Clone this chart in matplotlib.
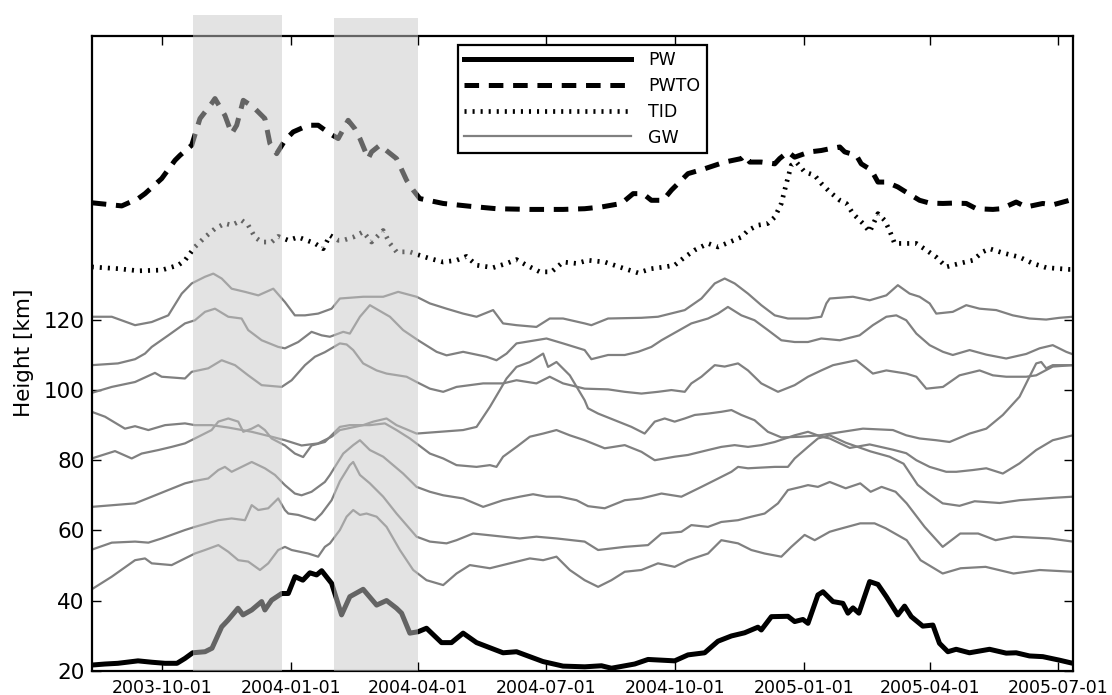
import matplotlib
matplotlib.use("Agg")
import matplotlib.pyplot as plt
import matplotlib.dates as mdates
import datetime as dt

plt.rcParams['font.family'] = ['DejaVu Sans']
plt.rcParams['lines.scale_dashes'] = False

START = dt.date(2003, 8, 12)
SPAN_DAYS = 700

# ---------------- data (day offsets from START, values in km) ----------------
pw_days = [0, 9.5, 18.7, 33, 43, 52.3, 60.8, 66.5, 72, 80.8, 85.8, 92.7, 97.2, 104.3, 107.9, 114.1, 121.2, 123.5,
           128.3, 135.5, 140.2, 145, 150.6, 155.6, 160.4, 164, 171.1, 178.2, 184.1, 193.6, 203.2, 210.3, 217.4, 221,
           226.9, 232.8, 238.8, 249.5, 256.6, 264.9, 274.5, 293.4, 303, 321.9, 336.2, 351.7, 363.6, 370.7, 387.3,
           396.8, 415.8, 425.3, 437.2, 446.7, 456.3, 465.7, 475.2, 477.6, 484.8, 496.6, 501.4, 507.3, 510.9, 518,
           521.6, 528.7, 535.8, 539.4, 543, 547.2, 554.9, 560.8, 566.8, 575, 579.8, 584.6, 592.8, 600, 604.7, 610.7,
           616.6, 626.1, 640.4, 652.3, 659.4, 668.9, 678.4, 690.2, 699.8]
pw_vals = [21.6, 21.9, 22.1, 22.8, 22.4, 22.1, 22.1, 23.5, 25.1, 25.4, 26.4, 32.5, 34.4, 37.8, 35.9, 37.3, 39.7, 37.3,
           40.1, 42.0, 42.0, 46.8, 45.8, 47.9, 47.3, 48.5, 44.9, 35.9, 41.1, 43.2, 38.7, 40.0, 37.8, 36.4, 30.7, 31.1,
           32.1, 28.0, 28.0, 30.7, 28.0, 25.1, 25.4, 22.6, 21.3, 21.1, 21.4, 20.7, 21.9, 23.2, 22.8, 24.5, 25.1, 28.4,
           29.9, 30.8, 32.4, 31.6, 35.4, 35.5, 34.0, 34.6, 33.5, 41.6, 42.5, 39.7, 39.2, 36.4, 37.9, 36.4, 45.4, 44.6,
           41.1, 35.9, 38.4, 35.4, 32.7, 33.0, 27.8, 25.4, 26.1, 25.1, 26.1, 25.0, 25.1, 24.2, 24.0, 23.0, 22.1]

pwto_days = [0, 21.4, 33.2, 38, 49.9, 59.4, 62.9, 71.3, 77.2, 85.5, 87.9, 95, 99.8, 103.4, 108.1, 115.2, 123.5, 127.1,
             131.9, 137.8, 143.7, 154.4, 161.5, 169.9, 175.8, 182.9, 187.7, 191.3, 197.2, 199.6, 205.5, 211.4, 217.4,
             224.6, 229.3, 234, 250.7, 269.7, 288.7, 312.5, 336.2, 351.6, 363.6, 377.8, 386.2, 393.2, 399.2, 407.5,
             413.5, 425.3, 437.2, 451.5, 463.4, 465.7, 469.3, 477.6, 487.2, 490.7, 496.6, 501.4, 512.1, 520.4, 526.4,
             533.6, 537.1, 545.4, 548.9, 556.1, 560.8, 566.8, 575, 578.6, 590.5, 597.7, 607.2, 614.2, 623.8, 631,
             642.8, 648.7, 659.4, 666.6, 678.4, 685.5, 697.4, 699.8]
pwto_vals = [153.4, 152.5, 154.6, 156.0, 160.3, 165.5, 166.9, 169.8, 177.4, 181.7, 183.1, 178.3, 173.1, 175.5, 182.6,
             180.7, 177.4, 170.3, 167.4, 171.2, 173.6, 175.5, 175.5, 173.1, 171.7, 176.9, 174.5, 171.7, 166.0, 167.9,
             169.8, 167.9, 166.0, 159.8, 157.0, 154.6, 153.2, 152.4, 151.7, 151.5, 151.5, 151.7, 152.2, 153.2, 156.0,
             156.0, 154.1, 154.1, 157.0, 161.7, 163.1, 165.0, 166.0, 166.9, 165.0, 165.0, 164.5, 166.0, 167.9, 166.4,
             167.9, 168.3, 168.8, 169.3, 167.9, 166.9, 164.5, 162.7, 159.3, 159.3, 157.9, 157.0, 154.1, 153.3, 153.2,
             153.3, 153.2, 151.7, 151.5, 151.7, 153.6, 152.2, 153.2, 152.8, 154.1, 154.6]

tid_days = [0, 19, 33.2, 49.9, 61.7, 66.5, 73.6, 80.8, 87.9, 95, 99.8, 106.9, 111.6, 116.4, 121.2, 128.3, 133, 140.2,
            147.3, 153.3, 159.2, 165.1, 169.9, 175.8, 179.4, 186.5, 193.6, 199.6, 207.9, 212.7, 217.4, 226.9, 234,
            241.2, 250.7, 260.2, 267.3, 274.5, 286.3, 295.9, 303, 310.1, 319.6, 327.9, 336.2, 345.8, 354, 365.9,
            380.2, 389.7, 399.2, 408.7, 415.8, 423, 430.1, 439.6, 446.7, 455, 463.4, 468.1, 475.2, 482.3, 487.2,
            491.9, 495.5, 499, 502.6, 508.5, 515.7, 520.4, 526.4, 533.6, 538.3, 543, 550.1, 554.9, 560.8, 565.6,
            569.1, 572.7, 581, 588.2, 595.3, 602.4, 609.5, 619, 628.5, 635.6, 640.4, 649.9, 661.8, 671.3, 680.8,
            697.4, 699.8]
tid_vals = [135.1, 134.6, 134.0, 134.2, 135.6, 137.0, 140.8, 143.6, 146.0, 147.5, 147.0, 148.4, 147.0, 143.6, 142.2,
            142.2, 143.8, 142.7, 143.6, 142.7, 141.8, 140.3, 144.1, 142.7, 142.7, 143.6, 145.1, 142.2, 145.5, 141.8,
            139.4, 139.4, 138.4, 137.5, 136.5, 137.0, 138.1, 135.6, 134.9, 136.1, 137.2, 135.6, 133.7, 133.7, 136.5,
            136.1, 137.0, 136.5, 134.6, 133.4, 134.6, 135.1, 135.6, 137.9, 139.9, 141.8, 140.8, 142.2, 143.6, 145.5,
            147.0, 147.5, 149.3, 153.2, 158.9, 164.1, 165.0, 162.2, 161.2, 158.9, 156.5, 154.1, 153.2, 150.3, 147.5,
            145.1, 150.3, 148.4, 145.5, 141.8, 141.8, 141.8, 139.9, 137.9, 135.1, 136.1, 137.0, 139.4, 140.3, 139.1,
            137.9, 136.1, 134.9, 134.4, 134.4]

gw1_days = [0, 14.3, 30.9, 42.8, 54.6, 64.2, 71.3, 80.8, 86.7, 92.7, 99.8, 109.3, 118.8, 129.5, 137.8, 144.9, 152.1,
            161.5, 171.1, 177, 193.6, 207.9, 218.6, 231.7, 241.2, 253.1, 264.9, 274.5, 286.3, 293.4, 303, 317.2, 326.7,
            336.2, 351.6, 356.4, 368.3, 392.1, 403.9, 423, 434.9, 444.4, 451.5, 458.6, 468.1, 477.6, 487.2, 496.6,
            510.9, 520.4, 524, 526.4, 543, 554.9, 566.8, 575, 583.4, 590.5, 597.7, 602.4, 614.2, 623.8, 633.3, 645.2,
            657, 668.9, 680.8, 690.3, 699.8]
gw1_vals = [120.9, 120.9, 118.5, 119.4, 121.3, 127.5, 130.4, 132.3, 133.2, 131.8, 128.9, 128.0, 127.0, 128.9, 125.1,
            121.3, 121.3, 121.8, 123.2, 126.1, 126.6, 126.6, 128.0, 126.6, 124.7, 123.2, 121.8, 120.9, 122.8, 119.0,
            118.5, 118.0, 120.4, 120.4, 119.0, 118.5, 120.4, 120.6, 120.9, 122.8, 126.1, 130.4, 131.8, 130.4, 127.5,
            124.2, 121.3, 120.4, 120.4, 120.9, 124.7, 126.1, 126.6, 125.6, 127.0, 129.9, 127.5, 126.6, 124.7, 121.8,
            122.3, 124.2, 123.2, 122.8, 121.3, 120.4, 120.1, 120.6, 120.9]

gw2_days = [0, 18.7, 30.9, 38, 42.8, 54.6, 66.5, 73.6, 80.8, 87.9, 97.4, 106.9, 111.6, 121.2, 133, 137.8, 147.3, 156.8,
            164, 169.9, 179.4, 184.1, 191.3, 198.4, 212.7, 222.1, 232.8, 246, 253.1, 264.9, 281.6, 288.7, 295.9, 303,
            324.4, 336.2, 351.6, 356.4, 368.3, 380.2, 389.7, 399.2, 406.4, 427.7, 439.6, 446.7, 453.8, 463.4, 472.8,
            482.3, 491.9, 501.4, 510.9, 520.4, 533.6, 547.7, 557.2, 566.8, 573.9, 581, 588.2, 597.7, 607.2, 614.2,
            626.2, 638.1, 652.3, 666.6, 676.1, 685.5, 695.1, 699.8]
gw2_vals = [107.1, 107.6, 108.8, 110.4, 112.3, 115.6, 119.0, 119.9, 122.3, 123.2, 120.9, 120.4, 117.1, 114.2, 112.3,
            111.9, 113.7, 116.6, 115.6, 115.2, 116.6, 116.1, 120.9, 124.2, 120.9, 117.1, 114.2, 110.9, 109.9, 110.9,
            109.5, 108.5, 110.4, 113.3, 114.7, 113.3, 111.4, 108.8, 110.0, 110.0, 110.9, 112.3, 114.2, 119.0, 120.4,
            121.8, 123.7, 121.3, 119.9, 117.1, 114.2, 113.7, 113.7, 114.7, 114.2, 115.6, 118.5, 120.9, 121.3, 119.9,
            116.1, 112.8, 110.9, 110.0, 111.4, 110.1, 109.0, 110.3, 111.9, 112.8, 110.9, 110.2]

gw3_days = [0, 14.3, 30.9, 45.1, 49.9, 66.5, 71.3, 83.1, 92.7, 102.2, 111.6, 121.2, 135.5, 142.6, 152.1, 159.2, 166.3,
            177, 181.8, 186.5, 193.6, 203.2, 210.3, 224.6, 231.7, 241.2, 250.7, 260.2, 269.7, 279.2, 293.4, 303, 317.2,
            326.7, 336.2, 351.6, 368.3, 380.2, 392.1, 403.9, 413.5, 423, 427.7, 434.9, 444.4, 451.5, 461, 468.1,
            477.6, 489.5, 501.4, 510.9, 520.4, 528.8, 545.4, 557.2, 566.8, 581, 588.2, 595.3, 607.2, 619, 633.3,
            642.8, 652.3, 666.6, 673.7, 685.5, 699.8]
gw3_vals = [99.2, 100.9, 102.3, 104.9, 103.8, 103.3, 105.2, 106.2, 108.5, 107.1, 104.2, 101.4, 100.9, 102.8, 107.1,
            109.5, 110.8, 113.3, 113.0, 111.4, 107.6, 105.6, 104.7, 103.8, 102.3, 100.4, 99.5, 100.9, 101.4, 101.9,
            101.9, 102.8, 101.9, 103.8, 101.9, 100.4, 100.2, 99.5, 99.0, 99.5, 100.0, 99.5, 101.9, 103.8, 107.1, 106.7,
            107.6, 105.6, 101.9, 99.5, 101.4, 103.8, 105.6, 107.1, 108.5, 104.7, 105.6, 104.7, 103.8, 100.4, 100.9,
            104.2, 105.6, 104.2, 103.8, 103.8, 104.2, 106.7, 107.1]

gw4_days = [0, 9.5, 23.7, 30.9, 40.4, 52.3, 66.5, 73.6, 85.5, 97.6, 114.1, 128.3, 137.8, 149.7, 161.5, 171.1, 177,
            181.8, 193.6, 200.8, 210.3, 217.4, 231.7, 248.3, 264.9, 274.5, 284, 291.1, 295.9, 303, 312.5, 322, 325.5,
            331.5, 341, 351.6, 354, 361.2, 373.1, 385, 394.4, 401.6, 408.7, 415.8, 423, 430.1, 439.6, 449.1, 456.3,
            463.4, 472.8, 482.3, 491.9, 506.1, 519.2, 550.1, 571.5, 581, 590.5, 602.4, 611.9, 626.2, 638.1, 649.9,
            661.8, 668.9, 673.7, 677.3, 680.8, 685.5, 699.8]
gw4_vals = [93.8, 92.4, 89.0, 89.7, 88.6, 90.0, 90.5, 90.0, 90.0, 89.3, 88.1, 86.7, 85.7, 84.2, 84.8, 86.7, 88.6, 89.0,
            90.0, 91.0, 91.9, 90.0, 87.6, 88.1, 88.6, 89.5, 95.2, 100.0, 103.3, 106.6, 108.0, 110.4, 106.6, 108.0,
            104.2, 97.1, 94.8, 93.3, 91.4, 89.5, 87.6, 91.0, 91.9, 91.0, 91.9, 92.9, 93.3, 93.8, 94.3, 92.9, 91.4, 88.1,
            86.5, 86.7, 87.1, 89.0, 88.6, 87.1, 86.2, 85.7, 85.2, 87.6, 89.0, 92.9, 98.1, 103.8, 107.6, 108.0, 106.2,
            107.1, 107.1]

gw5_days = [0, 16.6, 28.5, 35.6, 47.5, 57, 66.5, 73.6, 85.5, 90.3, 97.4, 104.5, 108.1, 114.1, 118.8, 123.5, 128.3,
            137.8, 144.9, 150.8, 156.8, 166.3, 177, 184.1, 198.4, 209.1, 217.4, 226.9, 241.2, 250.7, 260.2, 274.5, 284,
            288.7, 293.4, 303, 312.5, 322, 331.5, 341, 351.6, 365.9, 380.2, 392.1, 401.6, 415.8, 425.3, 439.6, 449.1,
            458.6, 468.1, 477.6, 487.2, 501.4, 510.9, 520.4, 526.4, 540.7, 554.9, 571.5, 581, 588.2, 597.7, 609.5,
            616.7, 628.5, 638.1, 649.9, 661.8, 673.7, 685.5, 699.8]
gw5_vals = [80.5, 82.6, 80.5, 81.9, 82.9, 83.8, 84.8, 86.2, 88.6, 91.0, 91.9, 91.0, 88.1, 89.0, 90.0, 88.6, 86.2, 84.2,
            81.9, 80.9, 84.2, 85.2, 89.5, 90.0, 90.0, 90.5, 88.6, 86.2, 81.9, 80.5, 78.6, 78.1, 78.6, 78.1, 81.0, 83.8,
            86.7, 87.6, 88.6, 87.1, 85.7, 83.4, 84.3, 82.4, 80.0, 81.0, 81.5, 82.9, 83.8, 84.3, 83.8, 84.3, 85.2, 87.1,
            88.1, 86.7, 86.2, 83.5, 84.5, 83.0, 82.0, 80.0, 78.1, 76.7, 76.7, 77.2, 77.7, 76.2, 79.1, 82.9, 85.7, 87.1]

gw6_days = [0, 30.9, 42.8, 54.6, 66.5, 73.6, 83.1, 90.3, 95, 99.8, 114.1, 123.5, 130.7, 137.8, 144.9, 149.7, 156.8,
            166.3, 169.9, 179.4, 186.5, 191.3, 198.4, 207.9, 222.1, 231.7, 241.2, 250.7, 264.9, 279.2, 293.4, 305.3,
            314.8, 324.4, 333.9, 345.8, 354, 365.9, 380.2, 392.1, 406.4, 420.6, 434.9, 444.4, 456.3, 461, 468.1, 487.2,
            496.6, 501.4, 510.9, 518, 526.4, 537.8, 555.6, 569.1, 579.1, 589.1, 596.9, 607, 619, 629.8, 647.6, 661.8,
            676.1, 686.8, 699.8]
gw6_vals = [66.7, 67.7, 69.6, 71.5, 73.4, 74.1, 74.8, 77.2, 78.1, 76.7, 79.5, 77.7, 75.8, 72.9, 70.5, 70.0, 71.0, 73.8,
            75.8, 81.9, 84.3, 85.7, 82.9, 81.0, 76.2, 72.4, 71.0, 70.0, 69.1, 66.7, 68.6, 69.6, 70.3, 69.6, 69.6, 68.6,
            66.9, 66.3, 68.6, 69.1, 70.5, 69.6, 72.4, 74.3, 76.7, 78.1, 77.7, 78.1, 78.1, 80.5, 83.8, 86.2, 87.1, 85.0,
            82.5, 81.0, 79.0, 73.0, 70.5, 67.7, 67.0, 68.3, 67.8, 68.6, 69.0, 69.3, 69.6]

gw7_days = [0, 14.3, 30.9, 40.4, 49.9, 66.5, 73.6, 90.3, 99.8, 109.3, 114.1, 118.8, 125.9, 133, 137.8, 140.2, 147.3,
            159.2, 164, 171.1, 177, 184.1, 186.5, 191.3, 198.4, 207.9, 217.4, 231.7, 241.2, 253.1, 260.2, 272, 281.6,
            293.4, 305.3, 317.2, 331.5, 351.6, 361.2, 380.2, 396.8, 406.4, 420.6, 427.7, 439.6, 449.1, 461, 470.5,
            480, 489.5, 496.6, 506.1, 510.9, 518, 526.4, 537.8, 548.2, 555.6, 563.4, 573.4, 581.3, 594.1, 607, 619.5,
            632.3, 644.7, 657.5, 683.2, 699.8]
gw7_vals = [54.5, 56.5, 56.8, 56.5, 57.7, 60.1, 61.0, 62.9, 63.4, 62.9, 67.2, 65.8, 66.3, 69.1, 65.8, 64.8, 64.4, 62.9,
            64.8, 68.6, 74.0, 78.6, 79.5, 75.8, 73.4, 69.6, 64.8, 58.2, 56.8, 56.3, 57.2, 59.1, 58.7, 58.2, 57.7, 58.2,
            57.7, 56.8, 54.4, 55.3, 55.8, 59.1, 59.6, 61.5, 61.0, 62.4, 62.9, 63.9, 64.8, 67.7, 71.5, 72.4, 72.9, 72.4,
            73.8, 72.0, 73.4, 71.0, 72.4, 71.0, 67.7, 61.0, 55.3, 59.1, 59.1, 57.2, 58.2, 57.7, 56.8]

gw8_days = [0, 14.3, 30.9, 38, 42.8, 57, 66.5, 73.6, 80.8, 90.3, 97.4, 104.5, 111.6, 120, 125.9, 133, 137.8, 142.6,
            154.4, 161.5, 166.3, 169.9, 177, 181.8, 186.5, 191.3, 196, 203.2, 210.3, 219.8, 229.3, 238.8, 250.7, 260.2,
            269.7, 284, 298.2, 312.5, 322, 331.5, 341, 351.6, 361.2, 370.7, 380.2, 392.1, 403.9, 415.8, 425.3, 439.6,
            449.1, 461, 470.5, 480, 491.9, 499, 508.5, 515.7, 526.4, 530.7, 548.2, 558.4, 566.3, 581.3, 591.2, 607,
            619.8, 637.6, 657.5, 676.1, 699.8]
gw8_vals = [43.2, 46.8, 51.5, 52.0, 50.6, 50.1, 52.0, 53.4, 54.4, 55.8, 53.9, 51.5, 51.1, 48.7, 50.6, 54.4, 55.3, 54.4,
            53.4, 52.5, 55.3, 56.3, 60.1, 63.9, 65.8, 64.4, 64.8, 63.9, 61.0, 54.4, 48.7, 45.8, 44.4, 47.7, 50.1, 49.2,
            50.6, 52.0, 51.5, 52.5, 48.7, 45.8, 43.9, 45.8, 48.2, 48.7, 50.6, 49.6, 51.5, 53.4, 57.2, 56.3, 54.4, 53.4,
            52.5, 55.3, 58.7, 57.2, 59.6, 60.1, 62.0, 62.0, 60.6, 57.2, 51.5, 47.7, 49.2, 49.6, 47.7, 48.7, 48.2]

gw_days = [gw1_days, gw2_days, gw3_days, gw4_days, gw5_days, gw6_days, gw7_days, gw8_days]
gw_vals = [gw1_vals, gw2_vals, gw3_vals, gw4_vals, gw5_vals, gw6_vals, gw7_vals, gw8_vals]

# shaded periods: (start date, end date, top of shading in km)
shade_periods = [("2003-10-23", "2003-12-26", 207.0), ("2004-02-01", "2004-04-01", 206.0)]

legend_labels = ["PW", "PWTO", "TID", "GW"]
y_ticks = [20, 40, 60, 80, 100, 120]
y_range = (20, 201)
ylabel = "Height [km]"

# ---------------- plotting ----------------
base = mdates.date2num(dt.datetime.combine(START, dt.time()))


def xs(days):
    return [base + d for d in days]


fig = plt.figure(figsize=(11.12, 6.95), dpi=100)
ax = fig.add_axes([0.0825, 0.035, 0.8825, 0.9135])

for d, v in zip(gw_days, gw_vals):
    ax.plot(xs(d), v, color="#808080", lw=1.6, solid_joinstyle="round")
l_pw, = ax.plot(xs(pw_days), pw_vals, color="black", lw=3.6, solid_joinstyle="round")
l_pwto, = ax.plot(xs(pwto_days), pwto_vals, color="black", lw=3.6, linestyle=(0, (10.5, 7.0)),
                  dash_capstyle="butt")
l_tid, = ax.plot(xs(tid_days), tid_vals, color="black", lw=3.4, linestyle=(0, (1.5, 4.3)),
                 dash_capstyle="butt")
l_gw, = ax.plot([], [], color="#808080", lw=1.6)

for s, e, top in shade_periods:
    x0 = mdates.datestr2num(s)
    x1 = mdates.datestr2num(e)
    ax.fill_between([x0, x1], [y_range[0]] * 2, [top] * 2, color="#c8c8c8", alpha=0.5,
                    lw=0, zorder=3, clip_on=False)

ax.set_xlim(base, base + SPAN_DAYS)
ax.set_ylim(*y_range)
ax.set_yticks(y_ticks)
ax.xaxis.set_major_locator(mdates.MonthLocator(bymonth=[1, 4, 7, 10]))
ax.xaxis.set_major_formatter(mdates.DateFormatter("%Y-%m-%d"))
ax.tick_params(axis="both", direction="in", length=6.5, width=1.0, top=True, right=True)
ax.tick_params(axis="x", labelsize=12.5, pad=6)
ax.tick_params(axis="y", labelsize=15.5, pad=5)
for sp in ax.spines.values():
    sp.set_linewidth(1.6)
ax.set_ylabel(ylabel, fontsize=15.5, labelpad=7)

leg = ax.legend([l_pw, l_pwto, l_tid, l_gw], legend_labels, loc="upper center",
                bbox_to_anchor=(0.5, 0.9854), borderaxespad=0.0, fontsize=12.5, handlelength=9.6,
                handletextpad=1.0, labelspacing=0.45, borderpad=0.35, fancybox=False, framealpha=1.0)
leg.get_frame().set_edgecolor("black")
leg.get_frame().set_linewidth(1.6)

fig.savefig("out.png", dpi=100, facecolor="white")
